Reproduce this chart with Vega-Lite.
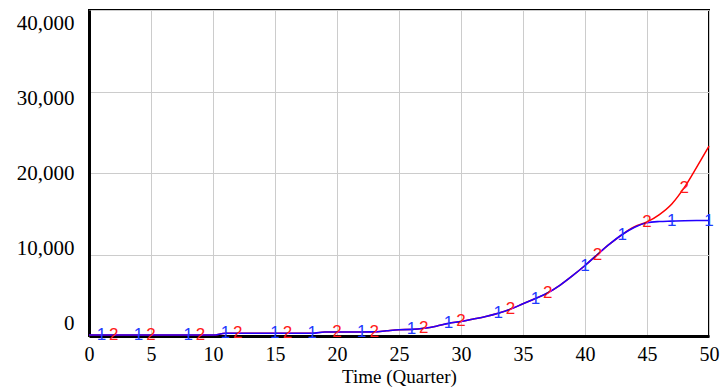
{
  "$schema": "https://vega.github.io/schema/vega-lite/v6.json",
  "width": 620,
  "height": 326,
  "autosize": {"type": "none"},
  "padding": {"left": 89, "top": 10, "right": 11, "bottom": 56},
  "background": "white",
  "config": {
    "view": {"stroke": "black", "strokeWidth": 2},
    "font": "Liberation Serif",
    "axis": {
      "labelFont": "Liberation Serif",
      "titleFont": "Liberation Serif",
      "labelColor": "black",
      "titleColor": "black",
      "gridColor": "#cccccc",
      "gridWidth": 1,
      "domainColor": "black",
      "ticks": false,
      "labelFlush": false,
      "labelOverlap": false
    }
  },
  "data": {"values": [
      {"t": 0, "v": 120, "s": "1", "m": 0}, {"t": 1, "v": 120, "s": "1", "m": 1}, {"t": 2, "v": 120, "s": "1", "m": 0},
      {"t": 3, "v": 120, "s": "1", "m": 0}, {"t": 4, "v": 120, "s": "1", "m": 1}, {"t": 5, "v": 120, "s": "1", "m": 0},
      {"t": 6, "v": 120, "s": "1", "m": 0}, {"t": 7, "v": 120, "s": "1", "m": 0}, {"t": 8, "v": 120, "s": "1", "m": 1},
      {"t": 9, "v": 120, "s": "1", "m": 0}, {"t": 10, "v": 120, "s": "1", "m": 0}, {"t": 11, "v": 330, "s": "1", "m": 1},
      {"t": 12, "v": 330, "s": "1", "m": 0}, {"t": 13, "v": 330, "s": "1", "m": 0}, {"t": 14, "v": 330, "s": "1", "m": 0},
      {"t": 15, "v": 330, "s": "1", "m": 1}, {"t": 16, "v": 330, "s": "1", "m": 0}, {"t": 17, "v": 330, "s": "1", "m": 0},
      {"t": 18, "v": 340, "s": "1", "m": 1}, {"t": 19, "v": 490, "s": "1", "m": 0}, {"t": 20, "v": 500, "s": "1", "m": 0},
      {"t": 21, "v": 500, "s": "1", "m": 0}, {"t": 22, "v": 500, "s": "1", "m": 1}, {"t": 23, "v": 510, "s": "1", "m": 0},
      {"t": 24, "v": 640, "s": "1", "m": 0}, {"t": 25, "v": 760, "s": "1", "m": 0}, {"t": 26, "v": 810, "s": "1", "m": 1},
      {"t": 27, "v": 950, "s": "1", "m": 0}, {"t": 28, "v": 1200, "s": "1", "m": 0}, {"t": 29, "v": 1550, "s": "1", "m": 1},
      {"t": 30, "v": 1780, "s": "1", "m": 0}, {"t": 31, "v": 2080, "s": "1", "m": 0}, {"t": 32, "v": 2400, "s": "1", "m": 0},
      {"t": 33, "v": 2800, "s": "1", "m": 1}, {"t": 34, "v": 3300, "s": "1", "m": 0}, {"t": 35, "v": 3950, "s": "1", "m": 0},
      {"t": 36, "v": 4600, "s": "1", "m": 1}, {"t": 37, "v": 5300, "s": "1", "m": 0}, {"t": 38, "v": 6250, "s": "1", "m": 0},
      {"t": 39, "v": 7400, "s": "1", "m": 0}, {"t": 40, "v": 8650, "s": "1", "m": 1}, {"t": 41, "v": 10000, "s": "1", "m": 0},
      {"t": 42, "v": 11300, "s": "1", "m": 0}, {"t": 43, "v": 12450, "s": "1", "m": 1}, {"t": 44, "v": 13350, "s": "1", "m": 0},
      {"t": 45, "v": 13900, "s": "1", "m": 0}, {"t": 46, "v": 14050, "s": "1", "m": 0}, {"t": 47, "v": 14100, "s": "1", "m": 1},
      {"t": 48, "v": 14150, "s": "1", "m": 0}, {"t": 49, "v": 14170, "s": "1", "m": 0}, {"t": 50, "v": 14170, "s": "1", "m": 1},
      {"t": 0, "v": 120, "s": "2", "m": 0}, {"t": 1, "v": 120, "s": "2", "m": 0}, {"t": 2, "v": 120, "s": "2", "m": 1},
      {"t": 3, "v": 120, "s": "2", "m": 0}, {"t": 4, "v": 120, "s": "2", "m": 0}, {"t": 5, "v": 120, "s": "2", "m": 1},
      {"t": 6, "v": 120, "s": "2", "m": 0}, {"t": 7, "v": 120, "s": "2", "m": 0}, {"t": 8, "v": 120, "s": "2", "m": 0},
      {"t": 9, "v": 120, "s": "2", "m": 1}, {"t": 10, "v": 120, "s": "2", "m": 0}, {"t": 11, "v": 330, "s": "2", "m": 0},
      {"t": 12, "v": 330, "s": "2", "m": 1}, {"t": 13, "v": 330, "s": "2", "m": 0}, {"t": 14, "v": 330, "s": "2", "m": 0},
      {"t": 15, "v": 330, "s": "2", "m": 0}, {"t": 16, "v": 330, "s": "2", "m": 1}, {"t": 17, "v": 330, "s": "2", "m": 0},
      {"t": 18, "v": 340, "s": "2", "m": 0}, {"t": 19, "v": 490, "s": "2", "m": 0}, {"t": 20, "v": 500, "s": "2", "m": 1},
      {"t": 21, "v": 500, "s": "2", "m": 0}, {"t": 22, "v": 500, "s": "2", "m": 0}, {"t": 23, "v": 510, "s": "2", "m": 1},
      {"t": 24, "v": 640, "s": "2", "m": 0}, {"t": 25, "v": 760, "s": "2", "m": 0}, {"t": 26, "v": 810, "s": "2", "m": 0},
      {"t": 27, "v": 950, "s": "2", "m": 1}, {"t": 28, "v": 1200, "s": "2", "m": 0}, {"t": 29, "v": 1550, "s": "2", "m": 0},
      {"t": 30, "v": 1780, "s": "2", "m": 1}, {"t": 31, "v": 2080, "s": "2", "m": 0}, {"t": 32, "v": 2400, "s": "2", "m": 0},
      {"t": 33, "v": 2800, "s": "2", "m": 0}, {"t": 34, "v": 3300, "s": "2", "m": 1}, {"t": 35, "v": 3950, "s": "2", "m": 0},
      {"t": 36, "v": 4600, "s": "2", "m": 0}, {"t": 37, "v": 5300, "s": "2", "m": 1}, {"t": 38, "v": 6250, "s": "2", "m": 0},
      {"t": 39, "v": 7400, "s": "2", "m": 0}, {"t": 40, "v": 8650, "s": "2", "m": 0}, {"t": 41, "v": 10000, "s": "2", "m": 1},
      {"t": 42, "v": 11300, "s": "2", "m": 0}, {"t": 43, "v": 12450, "s": "2", "m": 0}, {"t": 44, "v": 13400, "s": "2", "m": 0},
      {"t": 45, "v": 14000, "s": "2", "m": 1}, {"t": 46, "v": 14900, "s": "2", "m": 0}, {"t": 47, "v": 16200, "s": "2", "m": 0},
      {"t": 48, "v": 18200, "s": "2", "m": 1}, {"t": 49, "v": 20700, "s": "2", "m": 0}, {"t": 50, "v": 23300, "s": "2", "m": 0}
  ]},
  "encoding": {
    "x": {
      "field": "t",
      "type": "quantitative",
      "scale": {"domain": [0, 50], "nice": false},
      "axis": {
        "values": [0, 5, 10, 15, 20, 25, 30, 35, 40, 45, 50],
        "title": "Time (Quarter)",
        "labelFontSize": 20,
        "titleFontSize": 19,
        "titleFontWeight": "normal",
        "labelPadding": 8,
        "titlePadding": 3,
        "domainWidth": 3
      }
    },
    "y": {
      "field": "v",
      "type": "quantitative",
      "scale": {"domain": [0, 40000], "nice": false},
      "axis": {
        "values": [0, 10000, 20000, 30000, 40000],
        "format": ",.0f",
        "title": null,
        "labelFontSize": 21,
        "labelPadding": 15,
        "domainWidth": 3,
        "labelOffset": {"expr": "datum.value * 0.00065 - 13"}
      }
    }
  },
  "layer": [
    {
      "transform": [{"filter": "datum.s == '2'"}],
      "mark": {"type": "line", "color": "#ff0000", "strokeWidth": 1.5, "interpolate": "monotone"}
    },
    {
      "transform": [{"filter": "datum.s == '1'"}],
      "mark": {"type": "line", "color": "#2200ff", "strokeWidth": 1.6, "interpolate": "monotone"}
    },
    {
      "transform": [{"filter": "datum.m == 1"}],
      "mark": {"type": "text", "font": "Liberation Sans", "fontSize": 17, "baseline": "middle"},
      "encoding": {
        "text": {"field": "s"},
        "color": {"field": "s", "type": "nominal", "scale": {"domain": ["1", "2"], "range": ["#1f3bff", "#ff1a1a"]}, "legend": null}
      }
    }
  ]
}
